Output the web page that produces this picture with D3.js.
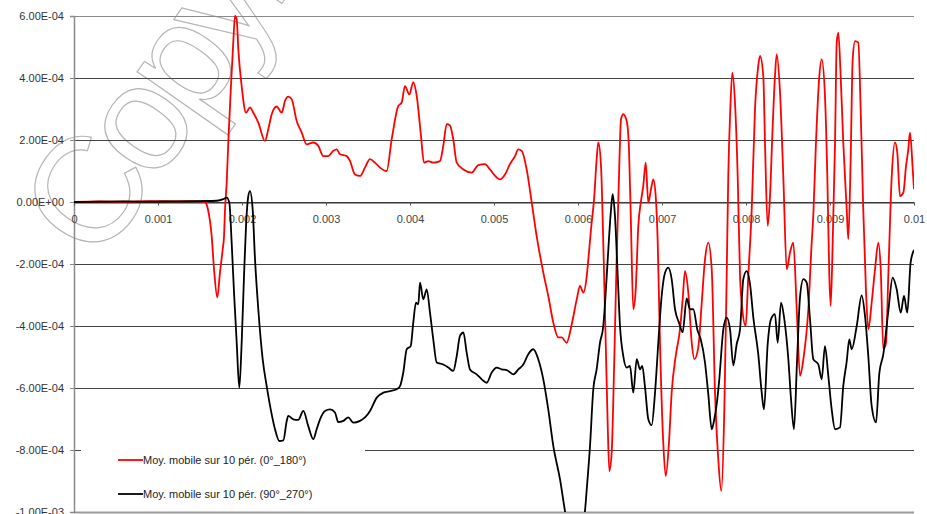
<!DOCTYPE html>
<html>
<head>
<meta charset="utf-8">
<script src="https://cdn.jsdelivr.net/npm/d3@7"></script>
<style>
  body { margin: 0; background: #fff; }
  svg { display: block; }
</style>
</head>
<body>
<div id="chart"></div>
<script>
// size of the svg (same as the window)
const width = 927; const height = 514;
const margin = {top: 16, right: 13, bottom: 2, left: 74};
const innerWidth = width - margin.left - margin.right;
const innerHeight = height - margin.top - margin.bottom;

// x ticks (seconds) and y ticks
const xTicks = [0, 0.001, 0.002, 0.003, 0.004, 0.005, 0.006, 0.007, 0.008, 0.009, 0.01];
const yTicks = [6e-4, 4e-4, 2e-4, 0, -2e-4, -4e-4, -6e-4, -8e-4, -1e-3];
const legendLabels = ["Moy. mobile sur 10 pér. (0°_180°)", "Moy. mobile sur 10 pér. (90°_270°)"];

// series: time in ms, value in 1E-04
const redTime = [0, 0.3, 0.6, 0.9, 1.2, 1.45, 1.56, 1.595, 1.639, 1.667, 1.706, 1.738, 1.770, 1.786, 1.798, 1.818, 1.837, 1.865, 1.896, 1.917, 1.937, 1.956, 1.996, 2.048, 2.095, 2.135, 2.194, 2.274, 2.313, 2.354, 2.413, 2.473, 2.512, 2.551, 2.592, 2.651, 2.711, 2.770, 2.849, 2.908, 2.968, 3.027, 3.087, 3.127, 3.167, 3.246, 3.286, 3.345, 3.405, 3.464, 3.524, 3.583, 3.643, 3.722, 3.782, 3.861, 3.901, 3.940, 3.992, 4.039, 4.080, 4.127, 4.167, 4.217, 4.277, 4.357, 4.396, 4.437, 4.476, 4.515, 4.556, 4.635, 4.735, 4.813, 4.893, 4.952, 5.032, 5.071, 5.131, 5.190, 5.250, 5.289, 5.330, 5.389, 5.449, 5.508, 5.587, 5.646, 5.706, 5.765, 5.806, 5.865, 5.925, 5.985, 6.024, 6.063, 6.104, 6.123, 6.155, 6.194, 6.222, 6.242, 6.274, 6.301, 6.330, 6.354, 6.373, 6.401, 6.432, 6.460, 6.488, 6.512, 6.539, 6.580, 6.607, 6.631, 6.658, 6.687, 6.718, 6.750, 6.777, 6.806, 6.837, 6.869, 6.896, 6.925, 6.949, 6.976, 7.015, 7.044, 7.083, 7.115, 7.163, 7.214, 7.246, 7.274, 7.313, 7.354, 7.385, 7.432, 7.473, 7.512, 7.551, 7.592, 7.631, 7.670, 7.706, 7.742, 7.770, 7.789, 7.813, 7.837, 7.869, 7.901, 7.929, 7.956, 7.996, 8.027, 8.068, 8.107, 8.146, 8.167, 8.206, 8.226, 8.258, 8.286, 8.313, 8.345, 8.365, 8.405, 8.444, 8.485, 8.524, 8.563, 8.604, 8.643, 8.683, 8.742, 8.782, 8.801, 8.833, 8.873, 8.901, 8.940, 8.968, 8.992, 9.008, 9.032, 9.060, 9.080, 9.099, 9.127, 9.158, 9.199, 9.218, 9.246, 9.270, 9.298, 9.337, 9.365, 9.396, 9.429, 9.456, 9.496, 9.536, 9.575, 9.604, 9.635, 9.667, 9.694, 9.735, 9.774, 9.801, 9.833, 9.873, 9.905, 9.932, 9.952, 9.985, 10.0];
const redValue = [0, 0.02, 0.01, 0.03, 0.02, 0.03, 0, -0.24, -1.10, -2.17, -3.08, -2.27, -1.53, -1.10, -0.24, 0.64, 1.93, 3.54, 5.15, 6.0, 5.89, 4.93, 3.74, 2.88, 3.05, 2.88, 2.56, 1.97, 2.35, 2.83, 3.08, 2.88, 3.26, 3.40, 3.31, 2.61, 2.24, 1.86, 1.92, 1.81, 1.48, 1.48, 1.65, 1.70, 1.54, 1.48, 1.32, 0.89, 0.84, 1.11, 1.38, 1.27, 1.11, 1.0, 2.02, 3.10, 3.21, 3.74, 3.47, 3.87, 3.42, 2.24, 1.27, 1.32, 1.27, 1.32, 1.81, 2.51, 2.47, 2.02, 1.27, 1.05, 0.95, 1.19, 1.22, 1.05, 0.79, 0.73, 0.89, 1.22, 1.48, 1.70, 1.65, 1.05, -0.02, -1.10, -2.28, -3.03, -3.89, -4.37, -4.37, -4.54, -3.95, -3.14, -2.71, -2.92, -2.39, -1.85, -0.88, 0.19, 1.38, 1.92, 1.16, -1.31, -4.54, -7.23, -8.68, -8.08, -5.07, -1.85, 0.84, 2.67, 2.83, 2.61, 1.70, -0.77, -3.46, -2.82, -0.77, 0.03, 0.52, 1.27, -0.02, 0.41, 0.73, 0.19, -1.31, -4.54, -7.76, -8.84, -7.76, -6.15, -4.97, -4.11, -3.14, -2.23, -2.92, -4.54, -5.07, -4.69, -3.25, -1.85, -1.31, -2.17, -6.15, -8.30, -9.32, -6.69, -2.39, 0.84, 2.99, 4.17, 3.21, 0.84, -2.39, -3.46, -4.0, -2.39, -0.24, 2.99, 4.39, 4.71, 4.06, 1.92, -0.77, 0.19, 2.13, 4.06, 4.76, 3.53, 0.84, -2.17, -1.63, -1.31, -3.46, -5.61, -5.07, -3.46, -1.31, -0.45, 1.92, 4.06, 4.60, 3.42, 0.84, -2.39, -3.35, -1.31, 1.92, 5.14, 5.46, 4.06, 1.92, -0.24, -1.20, 1.38, 4.60, 5.19, 5.14, 2.99, -0.24, -2.92, -4.11, -3.25, -2.17, -1.31, -2.17, -4.75, -4.54, -2.39, 0.84, 1.92, 1.59, 0.19, 0.30, 1.16, 1.70, 2.24, 1.05, 0.41];

const blackTime = [0, 0.3, 0.6, 0.9, 1.2, 1.5, 1.70, 1.777, 1.818, 1.849, 1.877, 1.905, 1.937, 1.968, 1.996, 2.024, 2.048, 2.075, 2.095, 2.127, 2.155, 2.194, 2.246, 2.294, 2.342, 2.393, 2.444, 2.492, 2.532, 2.551, 2.611, 2.670, 2.730, 2.789, 2.849, 2.889, 2.929, 2.988, 3.048, 3.107, 3.146, 3.206, 3.265, 3.325, 3.405, 3.464, 3.524, 3.604, 3.683, 3.762, 3.842, 3.881, 3.920, 3.961, 4.008, 4.039, 4.071, 4.099, 4.119, 4.158, 4.199, 4.238, 4.277, 4.318, 4.396, 4.456, 4.515, 4.556, 4.595, 4.635, 4.675, 4.714, 4.794, 4.854, 4.913, 4.973, 5.032, 5.092, 5.151, 5.230, 5.290, 5.349, 5.408, 5.468, 5.527, 5.587, 5.646, 5.706, 5.786, 5.845, 5.964, 6.083, 6.104, 6.143, 6.182, 6.222, 6.262, 6.301, 6.330, 6.361, 6.393, 6.413, 6.440, 6.473, 6.500, 6.539, 6.580, 6.619, 6.658, 6.699, 6.738, 6.765, 6.798, 6.837, 6.877, 6.917, 6.956, 6.996, 7.036, 7.075, 7.115, 7.155, 7.202, 7.246, 7.294, 7.333, 7.373, 7.420, 7.461, 7.512, 7.551, 7.592, 7.619, 7.651, 7.682, 7.730, 7.770, 7.810, 7.849, 7.889, 7.929, 7.968, 8.008, 8.048, 8.087, 8.146, 8.187, 8.214, 8.258, 8.298, 8.345, 8.377, 8.417, 8.456, 8.504, 8.536, 8.571, 8.607, 8.643, 8.683, 8.723, 8.762, 8.801, 8.861, 8.901, 8.940, 8.980, 9.020, 9.060, 9.119, 9.158, 9.199, 9.230, 9.258, 9.318, 9.377, 9.417, 9.456, 9.496, 9.548, 9.587, 9.635, 9.694, 9.746, 9.794, 9.842, 9.881, 9.920, 9.960, 10.0];
const blackValue = [0, 0.01, 0.02, 0.01, 0.02, 0.03, 0.04, 0.09, 0.14, -0.02, -1.31, -2.92, -4.54, -5.99, -4.54, -2.39, -0.77, 0.19, 0.35, -0.24, -1.85, -3.46, -5.07, -5.94, -6.69, -7.33, -7.71, -7.69, -7.07, -6.90, -7.01, -7.03, -6.74, -7.23, -7.65, -7.33, -7.01, -6.74, -6.69, -6.79, -7.10, -7.06, -6.95, -7.12, -7.06, -6.95, -6.74, -6.31, -6.15, -6.10, -6.04, -5.94, -5.50, -4.75, -4.65, -3.89, -3.25, -3.30, -2.60, -3.14, -2.82, -3.57, -4.43, -5.18, -5.24, -5.34, -5.45, -4.97, -4.32, -4.21, -4.86, -5.40, -5.56, -5.72, -5.83, -5.50, -5.34, -5.40, -5.42, -5.56, -5.40, -5.24, -4.91, -4.75, -5.07, -5.72, -6.69, -7.87, -8.95, -9.97, -11.5, -9.97, -9.27, -7.87, -6.04, -5.40, -4.54, -4.0, -2.92, -1.53, -0.24, 0.25, -0.45, -2.39, -4.0, -4.97, -5.34, -5.29, -6.15, -5.07, -5.40, -5.29, -5.98, -7.01, -7.20, -6.15, -4.54, -3.03, -2.28, -2.12, -2.49, -3.46, -3.89, -4.20, -3.11, -3.46, -3.46, -4.11, -4.43, -5.18, -6.20, -7.33, -7.06, -6.53, -5.72, -4.11, -3.73, -4.11, -5.27, -4.59, -4.11, -2.49, -2.23, -2.65, -3.72, -4.91, -6.15, -6.69, -4.59, -3.78, -3.62, -4.54, -3.25, -3.78, -5.07, -6.36, -7.33, -5.17, -3.07, -2.49, -2.60, -3.78, -5.07, -5.24, -5.72, -4.65, -5.61, -6.69, -7.33, -7.27, -5.94, -5.14, -4.43, -4.75, -4.0, -3.01, -3.68, -4.97, -6.58, -7.11, -5.53, -4.91, -3.53, -2.44, -2.82, -3.57, -3.03, -3.57, -1.95, -1.55];

// label formats of the original sheet: 6.00E-04 / 0.001
function sciFormat(v) {
    let s = v.toExponential(2).toUpperCase();
    return s.replace(/E([+-])(\d)$/, "E$10$2");
}
function xFormat(v) { return String(+v.toFixed(3)); }

function toPoints(times, values) {
    return times.map((t, i) => ({t: t * 1e-3, v: values[i] * 1e-4}));
}

function drawChart() {
    const svg = d3.select("#chart")
        .append("svg")
            .attr("width", width)
            .attr("height", height)
            .style("font-family", "'Liberation Sans', Arial, sans-serif");

    const x_scale = d3.scaleLinear().domain([0, 0.01]).range([0, innerWidth]);
    const y_scale = d3.scaleLinear().domain([-1e-3, 6e-4]).range([innerHeight, 0]);

    // watermark behind the plot
    svg.append("text")
        .attr("transform", "translate(98,266) rotate(-55)")
        .attr("font-size", 150)
        .attr("letter-spacing", -10)
        .attr("fill", "none")
        .attr("stroke", "#b5b5b5")
        .attr("stroke-width", 1.2)
        .text("Copyright");

    const plotG = svg.append("g")
        .attr("transform", `translate(${margin.left}, ${margin.top})`);

    // horizontal grid lines
    plotG.append("g")
        .selectAll("line")
        .data(yTicks)
        .enter().append("line")
            .attr("x1", 0)
            .attr("x2", innerWidth)
            .attr("y1", d => Math.round(y_scale(d)) + 0.5)
            .attr("y2", d => Math.round(y_scale(d)) + 0.5)
            .attr("stroke", d => d === 6e-4 ? "#8a8a8a" : (d === -1e-3 ? "#9a9a9a" : "#444"))
            .attr("stroke-width", d => d === -1e-3 ? 2 : 1);

    // y axis on the left
    const y_axis = d3.axisLeft(y_scale)
        .tickValues(yTicks)
        .tickSize(4)
        .tickPadding(6)
        .tickFormat(sciFormat);
    const yG = plotG.append("g")
        .attr("class", "y axis")
        .call(y_axis);
    yG.select(".domain").attr("stroke", "#8a8a8a").attr("stroke-width", 1.5);
    yG.selectAll(".tick line").attr("stroke", "#8a8a8a");
    yG.selectAll("text").attr("font-size", "11px").attr("fill", "#333");

    // x axis sits on the zero line
    const x_axis = d3.axisBottom(x_scale)
        .tickValues(xTicks)
        .tickSize(3)
        .tickSizeOuter(0)
        .tickPadding(10)
        .tickFormat(xFormat);
    const xG = plotG.append("g")
        .attr("class", "x axis")
        .attr("transform", `translate(0, ${Math.round(y_scale(0)) + 0.5})`)
        .call(x_axis);
    xG.select(".domain").attr("stroke", "#333");
    xG.selectAll(".tick line").attr("stroke", "#555");
    xG.selectAll("text").attr("font-size", "11px").attr("fill", "#444");

    // clip for the curves
    plotG.append("clipPath").attr("id", "plot-clip")
        .append("rect")
            .attr("x", 0).attr("y", -2)
            .attr("width", innerWidth).attr("height", innerHeight + 2);

    const line = d3.line()
        .x(d => x_scale(d.t))
        .y(d => y_scale(d.v))
        .curve(d3.curveMonotoneX);

    const series = [
        {name: legendLabels[0], color: "#ff0000", points: toPoints(redTime, redValue)},
        {name: legendLabels[1], color: "#000000", points: toPoints(blackTime, blackValue)}
    ];

    plotG.append("g")
        .attr("clip-path", "url(#plot-clip)")
        .selectAll("path")
        .data(series)
        .enter().append("path")
            .attr("d", d => line(d.points))
            .attr("fill", "none")
            .attr("stroke", d => d.color)
            .attr("stroke-width", 1.8)
            .attr("stroke-linejoin", "round");

    // legend box (white, hides the grid line behind it)
    const legendG = svg.append("g")
        .attr("transform", "translate(81, 446)");
    legendG.append("rect")
        .attr("width", 284)
        .attr("height", 62)
        .attr("fill", "#fff");
    const item = legendG.selectAll("g.item")
        .data(series)
        .enter().append("g")
            .attr("class", "item")
            .attr("transform", (d, i) => `translate(0, ${14 + i * 34})`);
    item.append("line")
        .attr("x1", 37).attr("x2", 62)
        .attr("stroke", d => d.color)
        .attr("stroke-width", 1.8);
    item.append("text")
        .attr("x", 62)
        .attr("y", 4)
        .attr("font-size", "11px")
        .attr("fill", "#222")
        .text(d => d.name);
}

drawChart();
</script>
</body>
</html>
